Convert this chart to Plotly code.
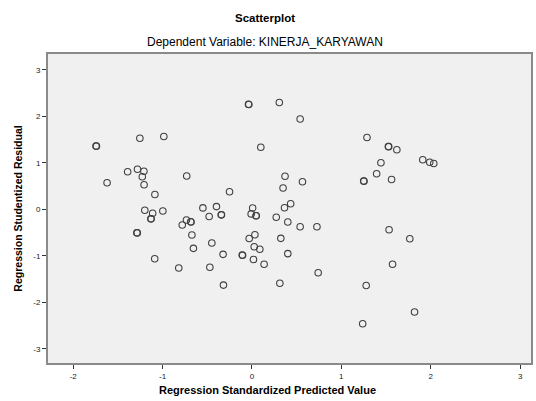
import plotly.graph_objects as go

# Regression Standardized Predicted Value
pred = [-1.745, -1.740, -1.254, -0.986, -1.391, -1.281, -1.209, -1.227, -1.207, -1.621,
        -0.730, -1.086, -0.039, -0.035, 0.306, 0.539, 0.099, 0.370, 0.565, 0.348,
        -0.251, 1.287, 1.526, 1.530, 1.621, 1.443, 1.395, 1.250, 1.253, 1.562,
        1.911, 1.989, 2.034, -1.199, -1.111, -0.997, -1.131, -1.128, -1.288, -1.283,
        -0.549, -0.479, -0.397, -0.344, -0.341, -0.733, -0.685, -0.682, -0.780, -0.672,
        -0.655, -0.449, -1.088, -0.819, -0.471, 0.008, -0.009, 0.045, 0.048, 0.272,
        0.364, 0.433, 0.401, 0.539, 0.727, -0.031, 0.033, 0.323, 0.025, 0.088,
        -0.323, -0.109, -0.105, 0.017, 0.136, 0.401, -0.319, 0.312, 0.741, 1.278,
        1.534, 1.766, 1.573, 1.819, 1.239]

# Regression Studentized Residual
resid = [1.363, 1.360, 1.529, 1.568, 0.811, 0.865, 0.819, 0.701, 0.531, 0.574,
         0.718, 0.320, 2.260, 2.255, 2.299, 1.944, 1.338, 0.714, 0.594, 0.460,
         0.381, 1.546, 1.353, 1.350, 1.284, 1.004, 0.768, 0.611, 0.608, 0.643,
         1.069, 1.015, 0.987, -0.019, -0.082, -0.034, -0.200, -0.203, -0.501, -0.505,
         0.032, -0.151, 0.060, -0.114, -0.117, -0.228, -0.267, -0.270, -0.335, -0.551,
         -0.837, -0.723, -1.060, -1.260, -1.243, 0.030, -0.097, -0.135, -0.138, -0.168,
         0.037, 0.123, -0.271, -0.372, -0.374, -0.626, -0.546, -0.622, -0.804, -0.856,
         -0.966, -0.983, -0.986, -1.077, -1.181, -0.951, -1.628, -1.589, -1.361, -1.637,
         -0.439, -0.630, -1.181, -2.206, -2.460]

x_ticks = [-2, -1, 0, 1, 2, 3]
y_ticks = [-3, -2, -1, 0, 1, 2, 3]

FONT = "Arial, Liberation Sans, sans-serif"

fig = go.Figure()
fig.add_trace(go.Scatter(
    x=pred, y=resid, mode="markers",
    marker=dict(symbol="circle-open", size=6.5, color="#404040", line=dict(width=1.1, color="#404040")),
    showlegend=False, hoverinfo="x+y",
))

axis_common = dict(
    showgrid=False, zeroline=False, showline=True, linewidth=2, linecolor="#8a8a8a",
    mirror=True, ticks="outside", ticklen=4, tickwidth=1, tickcolor="#333333",
    tickfont=dict(family=FONT, size=8, color="#222222"),
)

fig.update_layout(
    width=536, height=401,
    margin=dict(l=48, r=3, t=54, b=38),
    paper_bgcolor="white", plot_bgcolor="#F0F0F0",
    font=dict(family=FONT, color="black"),
    xaxis=dict(range=[-2.282, 3.122], tickvals=x_ticks, ticktext=[str(v) for v in x_ticks], **axis_common),
    yaxis=dict(range=[-3.303, 3.342], tickvals=y_ticks, ticktext=[str(v) for v in y_ticks], **axis_common),
    annotations=[
        dict(text="<b>Scatterplot</b>", x=0.449, y=1.1165, xref="paper", yref="paper",
             xanchor="center", yanchor="middle", showarrow=False, font=dict(family=FONT, size=11.5, color="black")),
        dict(text="Dependent Variable: KINERJA_KARYAWAN", x=0.449, y=1.0388, xref="paper", yref="paper",
             xanchor="center", yanchor="middle", showarrow=False, font=dict(family=FONT, size=12, color="black")),
        dict(text="<b>Regression Standardized Predicted Value</b>", x=0.4536, y=-0.0874, xref="paper", yref="paper",
             xanchor="center", yanchor="middle", showarrow=False, font=dict(family=FONT, size=11, color="black")),
        dict(text="<b>Regression Studentized Residual</b>", x=-0.0639, y=0.5, xref="paper", yref="paper",
             xanchor="center", yanchor="middle", textangle=-90, showarrow=False, font=dict(family=FONT, size=10.5, color="black")),
    ],
)

fig.write_html(
    "out.html",
    config={"displayModeBar": False},
    post_script="document.body.style.margin='0';document.body.style.padding='0';",
)
